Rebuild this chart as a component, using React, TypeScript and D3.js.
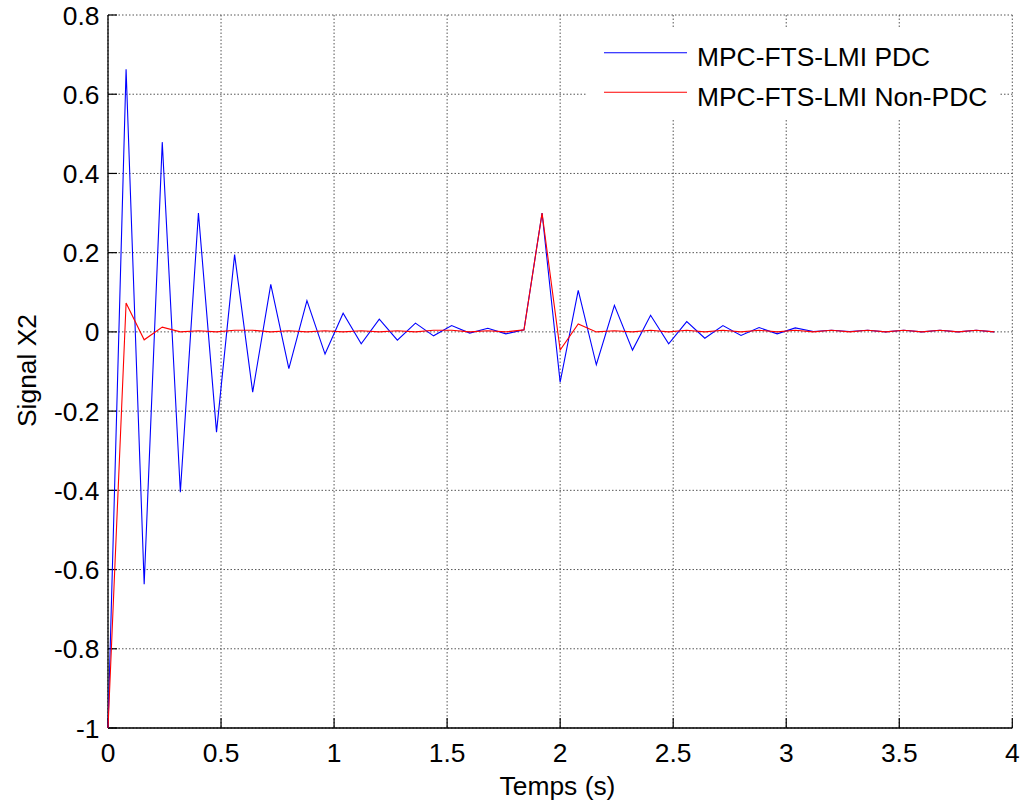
import React from "react";
import * as d3 from "d3";

const timeStep = 0.08;
const seriesNames = ["MPC-FTS-LMI PDC", "MPC-FTS-LMI Non-PDC"];
const seriesColors = ["#0000ff", "#ff0000"];

const pdcValues = [
  -1, 0.663, -0.637, 0.479, -0.405, 0.3, -0.253, 0.195, -0.152, 0.12,
  -0.093, 0.079, -0.056, 0.047, -0.03, 0.032, -0.021, 0.022, -0.01, 0.016,
  -0.003, 0.009, -0.005, 0.005, 0.3, -0.127, 0.105, -0.083, 0.067, -0.046,
  0.042, -0.03, 0.026, -0.016, 0.016, -0.009, 0.011, -0.005, 0.01, 0.001,
  0.004, 0.001, 0.004, 0.0, 0.004, 0.0, 0.004, 0.0, 0.004, 0.0,
];

const nonPdcValues = [
  -1, 0.073, -0.02, 0.012, 0.0, 0.003, 0.0, 0.004, 0.004, 0.0,
  0.003, 0.0, 0.003, 0.0, 0.003, 0.0, 0.003, 0.0, 0.004, 0.004,
  0.0, 0.003, 0.0, 0.005, 0.3, -0.046, 0.02, 0.0, 0.003, 0.0,
  0.004, 0.0, 0.004, 0.0, 0.004, 0.0, 0.004, 0.0, 0.004, 0.0,
  0.004, 0.0, 0.004, 0.0, 0.004, 0.0, 0.004, 0.0, 0.004, 0.0,
];

const xTicks = [0, 0.5, 1, 1.5, 2, 2.5, 3, 3.5, 4];
const yTicks = [-1, -0.8, -0.6, -0.4, -0.2, 0, 0.2, 0.4, 0.6, 0.8];
const xLabel = "Temps (s)";
const yLabel = "Signal X2";

const W = 1027;
const H = 809;
const left = 108;
const right = 1012.3;
const top = 15;
const bottom = 728;
const font = "'Liberation Sans', Arial, Helvetica, sans-serif";
const fs = 26.4;

export default function App() {
  const x = d3.scaleLinear().domain([0, 4]).range([left, right]);
  const y = d3.scaleLinear().domain([-1, 0.8]).range([bottom, top]);
  const line = d3
    .line<number>()
    .x((_, i) => x(i * timeStep))
    .y((d) => y(d));
  const all = [pdcValues, nonPdcValues];
  const gridStyle = { stroke: "#555", strokeWidth: 1, strokeDasharray: "1.5 2" };

  return (
    <svg
      width={W}
      height={H}
      style={{ position: "absolute", left: 0, top: 0, background: "#fff" }}
      fontFamily={font}
    >
      <rect x={0} y={0} width={W} height={H} fill="#fff" />
      {xTicks.map((t) => (
        <line key={"gx" + t} x1={x(t)} x2={x(t)} y1={top} y2={bottom} {...gridStyle} />
      ))}
      {yTicks.map((t) => (
        <line key={"gy" + t} x1={left} x2={right} y1={y(t)} y2={y(t)} {...gridStyle} />
      ))}
      <rect x={587} y={27} width={413} height={91} fill="#fff" />
      <line x1={left} x2={right} y1={bottom} y2={bottom} stroke="#000" strokeWidth={1.3} />
      <line x1={left} x2={left} y1={top} y2={bottom} stroke="#000" strokeWidth={1.3} />
      {xTicks.map((t) => (
        <g key={"tx" + t}>
          <line x1={x(t)} x2={x(t)} y1={bottom} y2={bottom - 10} stroke="#000" strokeWidth={1.2} />
          <text x={x(t)} y={762} textAnchor="middle" fontSize={fs} fill="#000">
            {t}
          </text>
        </g>
      ))}
      {yTicks.map((t) => (
        <g key={"ty" + t}>
          <line x1={left} x2={left + 9} y1={y(t)} y2={y(t)} stroke="#000" strokeWidth={1.2} />
          <text x={99.5} y={y(t) + 9.5} textAnchor="end" fontSize={fs} fill="#000">
            {t}
          </text>
        </g>
      ))}
      {all.map((vals, k) => (
        <path key={"s" + k} d={line(vals) || ""} fill="none" stroke={seriesColors[k]} strokeWidth={1.1} />
      ))}
      {seriesNames.map((name, k) => (
        <g key={"lg" + k}>
          <line x1={604} x2={687} y1={52.7 + k * 39.6} y2={52.7 + k * 39.6} stroke={seriesColors[k]} strokeWidth={1.1} />
          <text x={697} y={65.5 + k * 40} fontSize={fs} fill="#000">
            {name}
          </text>
        </g>
      ))}
      <text x={557.5} y={795} textAnchor="middle" fontSize={fs} fill="#000">
        {xLabel}
      </text>
      <text transform={`translate(36,370.5) rotate(-90)`} textAnchor="middle" fontSize={fs} fill="#000">
        {yLabel}
      </text>
    </svg>
  );
}
